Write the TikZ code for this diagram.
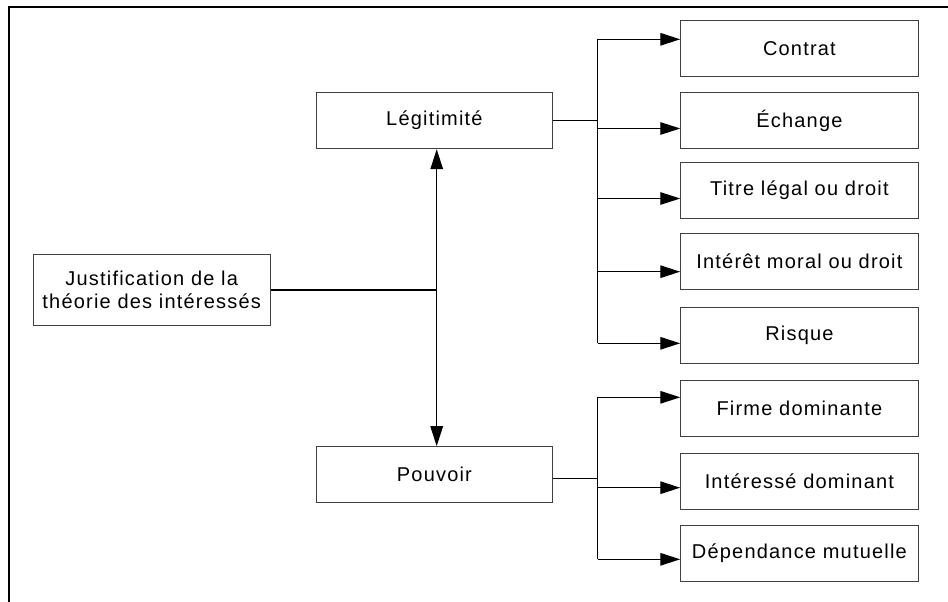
\documentclass[tikz,border=0pt]{standalone}
\usepackage{fontspec}
\setmainfont{Liberation Sans}[LetterSpace=6]
\usetikzlibrary{arrows.meta}
\begin{document}
\begin{tikzpicture}[x=1pt,y=-1pt,
  box/.style={draw=black!75,line width=1pt,minimum width=236.7pt,minimum height=56pt,inner sep=0pt,
    font=\fontsize{20}{23}\selectfont,align=center},
  rbox/.style={box,minimum width=237.3pt},
  conn/.style={line width=1.4pt,black},
  arr/.style={conn,-{Triangle[length=20pt,width=12.5pt]}},
  frame/.style={line width=2pt,black}]
\useasboundingbox (0,0) rectangle (948,602);
\draw[frame] (8.5,602) -- (8.5,7.3) -- (948,7.3);

\node[box,minimum height=71.7pt] (just) at (151.7,289.9) {Justification de la\\théorie des intéressés};
\node[box] (leg) at (434.4,120.7) {Légitimité};
\node[box] (pou) at (434.4,474.7) {Pouvoir};

\node[rbox] (r1) at (799.4,48.7) {Contrat};
\node[rbox] (r2) at (799.4,120.7) {Échange};
\node[rbox] (r3) at (799.4,190.3) {Titre légal ou droit};
\node[rbox] (r4) at (799.4,261.3) {Intérêt moral ou droit};
\node[rbox] (r5) at (799.4,335.7) {Risque};
\node[rbox] (p1) at (799.4,408) {Firme dominante};
\node[rbox] (p2) at (799.4,481.3) {Intéressé dominant};
\node[rbox] (p3) at (799.4,553.3) {Dépendance mutuelle};

% central hub
\coordinate (mid) at (436.7,290);
\draw[conn] (just.east) -- (just.east -| mid);
\draw[arr] (mid) -- (mid |- leg.south);
\draw[arr] (mid) -- (mid |- pou.north);

% legitimacy branch
\coordinate (lt) at (597.7,39.3);
\coordinate (lb) at (597.7,343.3);
\draw[conn] (leg.east) -- (leg.east -| lt);
\draw[conn] (lt) -- (lb);
\draw[arr] (lt) -- (r1.west |- lt);
\draw[arr] (597.7,128.5) -- (r2.west |- 0,128.5);
\draw[arr] (597.7,198.5) -- (r3.west |- 0,198.5);
\draw[arr] (597.7,271.7) -- (r4.west |- 0,271.7);
\draw[arr] (lb) -- (r5.west |- lb);

% power branch
\coordinate (pj) at (597.7,478.3);
\coordinate (pt) at (597.7,397.3);
\coordinate (pb) at (597.7,559.3);
\draw[conn] (pou.east |- pj) -- (pj);
\draw[conn] (pt) -- (pb);
\draw[arr] (pt) -- (p1.west |- pt);
\draw[arr] (597.7,487.7) -- (p2.west |- 0,487.7);
\draw[arr] (pb) -- (p3.west |- pb);
\end{tikzpicture}
\end{document}
